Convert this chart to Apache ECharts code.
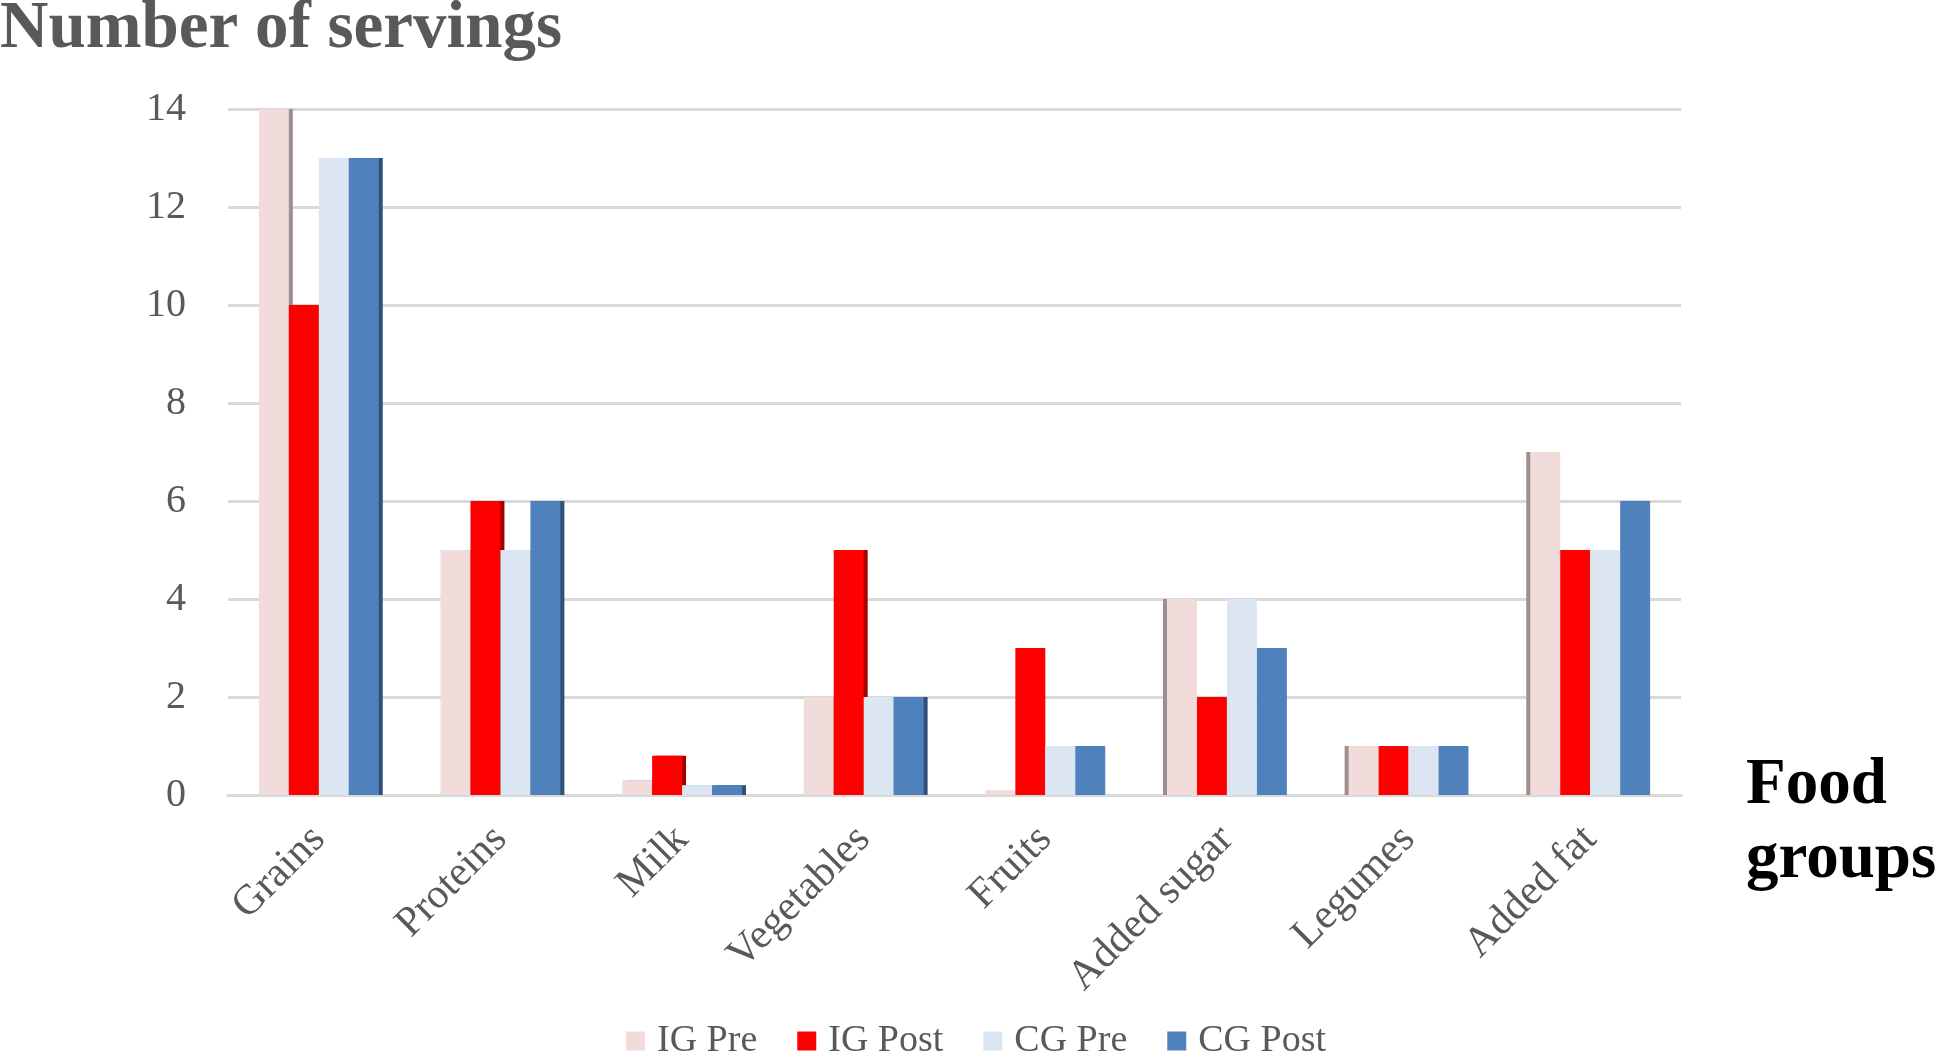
<!DOCTYPE html>
<html>
<head>
<meta charset="utf-8">
<script src="https://cdn.jsdelivr.net/npm/echarts@6/dist/echarts.min.js"></script>
<style>html,body{margin:0;padding:0;background:#fff;}#c{width:1945px;height:1054px;}</style>
</head>
<body>
<div id="c"></div>
<script>
const categories = ['Grains', 'Proteins', 'Milk', 'Vegetables', 'Fruits', 'Added sugar', 'Legumes', 'Added fat'];
const seriesNames = ['IG Pre', 'IG Post', 'CG Pre', 'CG Post'];
const igPre  = [14, 5, 0.3, 2, 0.1, 4, 1, 7];
const igPost = [10, 6, 0.8, 5, 3, 2, 1, 5];
const cgPre  = [13, 5, 0.2, 2, 1, 4, 1, 5];
const cgPost = [13, 6, 0.2, 2, 1, 3, 1, 6];
const yTicks = [0, 2, 4, 6, 8, 10, 12, 14];

const colors = ['#F2DCDB', '#FF0000', '#DCE6F2', '#4F81BD'];
const sideColors = ['#9E8F8F', '#A80000', '#A9B3C2', '#30507A'];
const FONT = '"Liberation Serif", "DejaVu Serif", serif';

function buildData(values, sIdx) {
  return values.map((v, i) => {
    let off = 0;
    if (i <= 3) off = 4;
    else if (i >= 5 && sIdx === 0) off = -4;
    return {
      value: v,
      itemStyle: off ? { shadowColor: sideColors[sIdx], shadowOffsetX: off, shadowOffsetY: 0, shadowBlur: 0 } : {}
    };
  });
}

const allValues = [igPre, igPost, cgPre, cgPost];
const chart = echarts.init(document.getElementById('c'), null, { renderer: 'canvas' });
chart.setOption({
  animation: false,
  backgroundColor: '#ffffff',
  title: [
    { text: 'Number of servings', left: 0, top: -4, padding: 0,
      textStyle: { fontFamily: FONT, fontSize: 67, fontWeight: 'bold', color: '#595959' } },
    { text: 'Food\ngroups', left: 1746, top: 749, padding: 0,
      textStyle: { fontFamily: FONT, fontSize: 65, fontWeight: 'bold', color: '#000000', lineHeight: 74 } }
  ],
  legend: {
    data: seriesNames,
    left: 621, top: 1017,
    itemWidth: 19, itemHeight: 19, itemGap: 40, icon: 'rect',
    textStyle: { fontFamily: FONT, fontSize: 38, color: '#595959', lineHeight: 38, padding: [0, 0, 0, 7] }
  },
  grid: { left: 228, right: 264, top: 109, bottom: 259, containLabel: false },
  xAxis: {
    type: 'category',
    data: categories,
    axisLine: { show: true, lineStyle: { color: '#D9D9D9', width: 3 } },
    axisTick: { show: false },
    axisLabel: { rotate: 45, margin: 38, fontFamily: FONT, fontSize: 42, color: '#595959', interval: 0 }
  },
  yAxis: {
    type: 'value',
    min: 0, max: 14, interval: 2,
    axisLine: { show: false },
    axisTick: { show: false },
    axisLabel: { margin: 42, fontFamily: FONT, fontSize: 40, color: '#595959',
      formatter: v => (yTicks.indexOf(v) >= 0 ? String(v) : '') },
    splitLine: { lineStyle: { color: '#D9D9D9', width: 3 } }
  },
  series: seriesNames.map((name, s) => ({
    name: name,
    type: 'bar',
    barGap: '0%',
    barCategoryGap: '34%',
    itemStyle: { color: colors[s] },
    data: buildData(allValues[s], s)
  }))
});
</script>
</body>
</html>
